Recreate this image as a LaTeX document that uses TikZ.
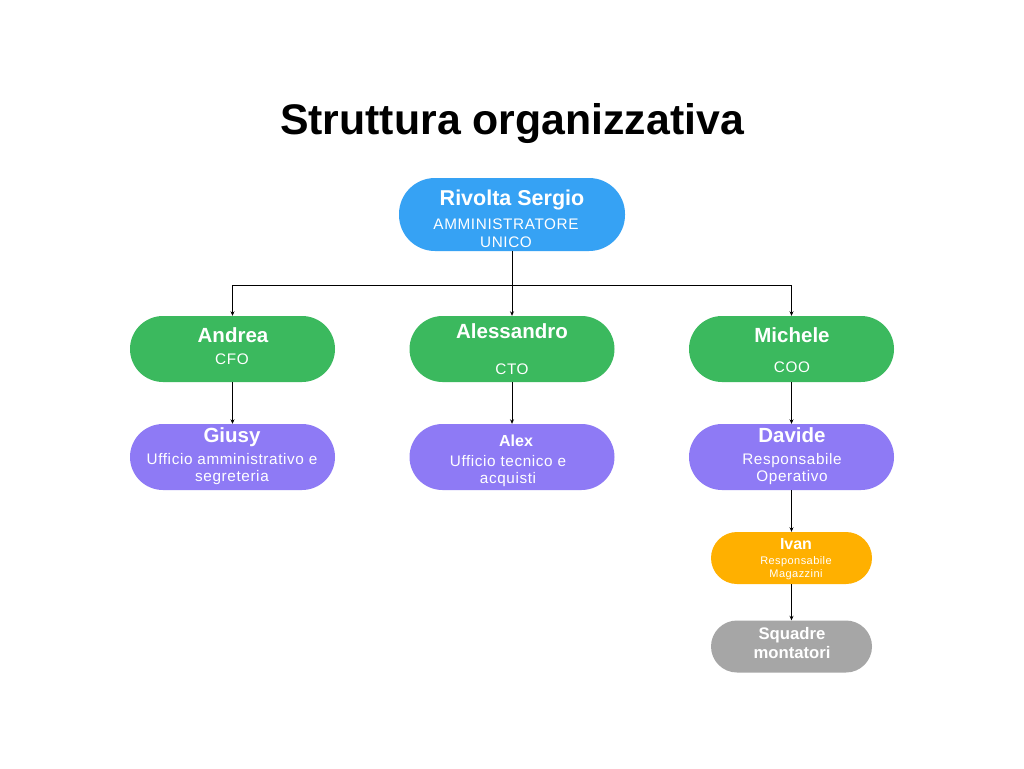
\documentclass[tikz,border=0pt]{standalone}
\usepackage{fontspec}
\setmainfont{Liberation Sans}
\newfontfamily\spaced[LetterSpace=4]{Liberation Sans}
\usetikzlibrary{arrows.meta}
\definecolor{cblue}{HTML}{36A2F4}
\definecolor{cgreen}{HTML}{3BB95E}
\definecolor{cpurple}{HTML}{8E7AF5}
\definecolor{corange}{HTML}{FFB000}
\definecolor{cgrey}{HTML}{A6A6A6}
\tikzset{
  pill/.style={rectangle, rounded corners=33pt, minimum width=205pt, minimum height=66pt, text=white, align=center, inner sep=0pt},
  smallpill/.style={rectangle, rounded corners=26pt, minimum width=161pt, minimum height=52pt, text=white, align=center, inner sep=0pt},
  conn/.style={draw=black, line width=0.8pt, -{Stealth[length=4.5pt,width=4pt]}},
  plain/.style={draw=black, line width=0.8pt},
  nm/.style={font=\bfseries\fontsize{20.5}{22}\selectfont, text=white},
  sb/.style={font=\spaced\fontsize{15.3}{17.5}\selectfont, text=white, align=center}
}
\begin{document}
\begin{tikzpicture}[x=1pt,y=-1pt]
\useasboundingbox[fill=white] (0,0) rectangle (1024,768);
\node[font=\bfseries\fontsize{42.8}{48}\selectfont] (title) at (512,124) {Struttura organizzativa};
\node[pill, fill=cblue, minimum width=226pt, minimum height=73pt, rounded corners=36pt] (ceo) at (512,214.5) {};
\node[nm, font=\bfseries\fontsize{21.5}{23}\selectfont] (ceon) at (512,200) {Rivolta Sergio};
\node[sb] (ceos) at (506,233) {AMMINISTRATORE\\UNICO};

\node[pill, fill=cgreen] (andrea) at (232.5,349) {};
\node[nm] (andrean) at (233,335) {Andrea};
\node[sb] (andreas) at (232,359) {CFO};
\node[pill, fill=cgreen] (aless) at (512,349) {};
\node[nm] (alessn) at (512,331) {Alessandro};
\node[sb] (alesss) at (512,369) {CTO};
\node[pill, fill=cgreen] (michele) at (791.5,349) {};
\node[nm] (michelen) at (792,335) {Michele};
\node[sb] (micheles) at (792,367) {COO};

\node[pill, fill=cpurple] (giusy) at (232.5,457) {};
\node[nm] (giusyn) at (232,437) {Giusy};
\node[sb] (giusys) at (232,469) {Ufficio amministrativo e\\segreteria};
\node[pill, fill=cpurple] (alex) at (512,457) {};
\node[font=\bfseries\fontsize{16}{18}\selectfont, text=white] (alexn) at (516,441) {Alex};
\node[sb] (alexs) at (508,471) {Ufficio tecnico e\\acquisti};
\node[pill, fill=cpurple] (davide) at (791.5,457) {};
\node[nm] (daviden) at (792,435) {Davide};
\node[sb] (davides) at (792,469) {Responsabile\\Operativo};

\node[smallpill, fill=corange] (ivan) at (791.5,558) {};
\node[font=\bfseries\fontsize{16}{18}\selectfont, text=white] (ivann) at (796,544) {Ivan};
\node[font=\spaced\fontsize{11}{13.5}\selectfont, text=white, align=center] (ivans) at (796,568) {Responsabile\\Magazzini};
\node[smallpill, fill=cgrey] (squadre) at (791.5,646.5) {};
\node[font=\bfseries\fontsize{16.7}{19}\selectfont, text=white, align=center] (squadren) at (792,643) {Squadre\\montatori};

\coordinate (hl) at (232.5,285);
\coordinate (hr) at (791.5,285);
\draw[plain] (hl) -- (hr);
\draw[conn] (ceo.south) -- (aless.north);
\draw[conn] (hl) -- (andrea.north);
\draw[conn] (hr) -- (michele.north);
\draw[conn] (andrea.south) -- (giusy.north);
\draw[conn] (aless.south) -- (alex.north);
\draw[conn] (michele.south) -- (davide.north);
\draw[conn] (davide.south) -- (ivan.north);
\draw[conn] (ivan.south) -- (squadre.north);
\end{tikzpicture}
\end{document}
